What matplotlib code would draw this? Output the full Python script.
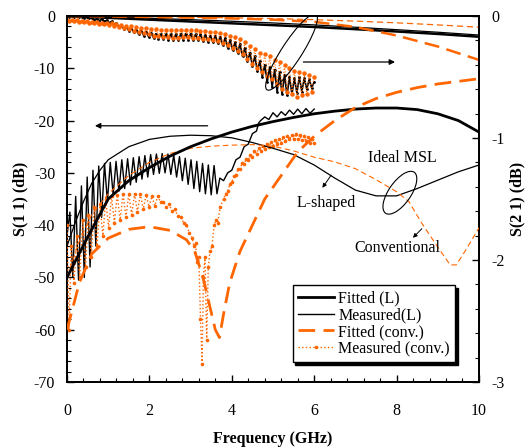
import numpy as np
import matplotlib
matplotlib.use('Agg')
import matplotlib.pyplot as plt
from matplotlib.patches import Ellipse
import matplotlib.transforms as mtransforms
from matplotlib.ticker import MultipleLocator

plt.rcParams['font.family'] = ['Liberation Serif', 'DejaVu Serif']
plt.rcParams['font.size'] = 11.5

ORANGE = '#FF6600'

# ---------------- S11 (left axis, dB) ----------------
fitL_s11_f = [0, 0.5, 1.0, 1.5, 2.0, 2.5, 3.0, 3.5, 4.0, 4.5, 5.0, 5.5, 6.0, 6.5, 7.0, 7.5, 8.0, 8.5, 9.0, 9.5, 10]
fitL_s11 = [-50, -42.3, -35, -31.5, -29, -26.8, -25, -23.5, -22.2, -21.1, -20.2, -19.4, -18.7, -18.2, -17.8, -17.6,
            -17.6, -17.9, -18.7, -20.0, -22.2]

fitC_s11_f = [0, 0.3, 0.6, 1.0, 1.5, 2.0, 2.5, 2.9, 3.1, 3.3, 3.45, 3.6, 3.7, 3.8, 3.95, 4.2, 4.5, 4.8, 5.2, 5.6,
              6.0, 6.5, 7.0, 7.5, 8.0, 8.5, 9.0, 9.5, 10]
fitC_s11 = [-60, -51, -45.5, -42.5, -40.8, -40.3, -41, -42.8, -45, -50, -55, -60, -61.5, -57, -51, -45, -40, -35,
            -30.5, -26, -23, -20, -17.5, -15.8, -14.6, -13.7, -13, -12.5, -12]

idL_s11_f = [0, 0.2, 0.4, 0.6, 0.8, 1.0, 1.5, 2.0, 2.5, 3.0, 3.5, 4.0, 4.5, 5.0, 5.5, 6.0, 6.5, 7.0, 7.5, 8.0,
             8.5, 9.0, 9.5, 10]
idL_s11 = [-44, -39.5, -35.5, -32, -29.5, -27.5, -25, -23.6, -23, -22.8, -22.9, -23.3, -24.2, -25.3, -26.5, -28.5,
           -31, -33.3, -34.4, -34.4, -33, -31.4, -29.8, -28.5]

idC_s11_f = [0, 0.3, 0.6, 1.0, 1.5, 2.0, 2.5, 3.0, 3.5, 4.0, 4.5, 5.0, 5.5, 6.0, 6.5, 7.0, 7.5, 8.0, 8.3, 8.6,
             9.0, 9.3, 9.45, 9.7, 10]
idC_s11 = [-50, -43, -38, -34, -30.5, -28, -26.3, -25.3, -24.9, -24.7, -24.6, -24.9, -25.8, -27, -27.9, -29.2,
           -31.3, -33.6, -35.5, -39.5, -44.2, -47.6, -47.6, -44.5, -40.5]

# measured L, S11 (oscillating part sampled every 0.07 GHz, then the rise)
measL_s11_f1 = np.round(np.arange(0, 3.72, 0.07), 2)
measL_s11_v1 = [-42, -37.5, -50, -34.5, -50.5, -32.5, -50, -30.8, -48, -29.5,
                -44, -28.7, -38.5, -28.2, -35.5, -28.0, -34.2, -27.8, -33.5, -27.5,
                -33.0, -27.3, -32.3, -27.1, -31.8, -26.9, -31.2, -26.7, -30.8, -26.5,
                -30.3, -26.4, -30.1, -26.3, -30.0, -26.4, -30.3, -26.6, -30.8, -26.9,
                -31.5, -27.2, -32.2, -27.5, -33.0, -27.8, -33.6, -28.2, -34.0, -28.5,
                -34.2, -28.6, -34.0, -31.0]
measL_s11_f2 = [3.8, 3.9, 4.0, 4.1, 4.2, 4.3, 4.4, 4.5, 4.6, 4.65, 4.7, 4.8, 4.9, 5.0, 5.1, 5.2, 5.3, 5.4, 5.5,
                5.6, 5.7, 5.8, 5.9, 6.0]
measL_s11_v2 = [-31.5, -30.0, -29.5, -27.5, -27.0, -25.0, -24.5, -22.5, -22.0, -20.5, -20.0, -19.3, -19.8, -18.5,
                -19.3, -18.3, -19.0, -18.0, -18.8, -17.8, -18.7, -17.7, -18.6, -17.8]

# measured conventional, S11
measC_s11_f = [0.0, 0.05, 0.1, 0.17, 0.24, 0.31, 0.38, 0.45, 0.52, 0.59, 0.66, 0.73, 0.8, 0.87, 0.94, 1.01, 1.08,
               1.15, 1.22, 1.29, 1.36, 1.43, 1.5, 1.57, 1.64, 1.71, 1.78, 1.85, 1.92, 1.99, 2.06, 2.13, 2.2, 2.27,
               2.34, 2.41, 2.48, 2.55, 2.62, 2.69, 2.76, 2.83, 2.9, 2.97, 3.04, 3.08, 3.12, 3.16, 3.2, 3.24, 3.28,
               3.31, 3.35, 3.39, 3.43, 3.47, 3.52, 3.57, 3.62, 3.66, 3.72,
               3.80, 3.85, 3.90, 3.95, 4.00, 4.05, 4.10, 4.15, 4.20, 4.25, 4.30, 4.35, 4.40, 4.45, 4.50, 4.55,
               4.60, 4.65, 4.70, 4.75, 4.80, 4.85, 4.90, 4.95, 5.00, 5.05, 5.10, 5.15, 5.20, 5.25, 5.30, 5.35,
               5.40, 5.45, 5.50, 5.55, 5.60, 5.65, 5.70, 5.75, 5.80, 5.85, 5.90, 5.95, 6.00]
measC_s11 = [-40, -60, -44, -51, -42, -50, -39, -48, -38, -46, -36.5, -44, -36, -42, -35, -40.5, -34.5,
             -39.5, -34.2, -39, -34, -38.5, -34, -38, -34, -37.5, -34, -37, -34.2, -36.5, -34.5, -36.3, -34.5, -35.5,
             -35.5, -36.5, -36, -37.3, -37, -38.3, -38.5, -39.5, -40, -41.5, -42.5, -44, -43.5, -47, -46, -58, -66.5,
             -50, -46, -62, -48, -45, -44, -40, -39, -39.5, -36.5,
             -35.0, -34.0, -33.5, -32.2, -31.8, -30.6, -30.4, -29.3, -29.2, -28.2, -28.3, -27.3, -27.6, -26.6,
             -27.0, -25.9, -26.3, -25.3, -25.9, -24.8, -25.4, -24.4, -25.1, -24.1, -24.8, -23.8, -24.5, -23.5,
             -24.2, -23.2, -23.9, -22.9, -23.6, -22.7, -23.5, -22.6, -23.6, -22.8, -23.8, -23.0, -24.0, -23.2,
             -24.2, -23.5, -24.3]

# ---------------- S21 (right axis, dB) ----------------
s21_f = [0, 1, 2, 3, 4, 5, 6, 7, 8, 9, 10]
fitL_s21 = [0, -0.015, -0.03, -0.045, -0.06, -0.075, -0.09, -0.108, -0.127, -0.147, -0.17]
idL_s21 = [0, -0.008, -0.018, -0.03, -0.043, -0.057, -0.073, -0.092, -0.112, -0.133, -0.156]
fitC_s21 = [0, -0.003, -0.008, -0.013, -0.02, -0.03, -0.048, -0.09, -0.16, -0.25, -0.36]
idC_s21 = [0, -0.003, -0.006, -0.01, -0.015, -0.021, -0.03, -0.042, -0.056, -0.073, -0.092]

meas_s21_f = np.round(np.arange(0, 6.001, 0.06), 2)
measL_s21 = [0.0, -0.005, 0.0, -0.008, -0.003, -0.010, -0.006, -0.014, -0.010, -0.018,
             -0.016, -0.030, -0.022, -0.038, -0.028, -0.045, -0.035, -0.055, -0.045, -0.068,
             -0.060, -0.090, -0.075, -0.105, -0.090, -0.120, -0.100, -0.135, -0.115, -0.150,
             -0.120, -0.160, -0.130, -0.170, -0.140, -0.180, -0.145, -0.185, -0.150, -0.190,
             -0.150, -0.195, -0.150, -0.200, -0.150, -0.200, -0.148, -0.195, -0.145, -0.195,
             -0.145, -0.195, -0.150, -0.200, -0.150, -0.205, -0.155, -0.210, -0.160, -0.215,
             -0.160, -0.225, -0.170, -0.240, -0.180, -0.260, -0.195, -0.280, -0.215, -0.300,
             -0.230, -0.330, -0.260, -0.370, -0.300, -0.410, -0.330, -0.450, -0.370, -0.500,
             -0.400, -0.540, -0.420, -0.580, -0.440, -0.620, -0.460, -0.640, -0.480, -0.650,
             -0.500, -0.640, -0.510, -0.630, -0.500, -0.620, -0.510, -0.600, -0.520, -0.590, -0.540]
measC_s21 = [-0.030, -0.040, -0.032, -0.045, -0.036, -0.048, -0.040, -0.052, -0.044, -0.056,
             -0.048, -0.060, -0.050, -0.064, -0.054, -0.068, -0.056, -0.072, -0.060, -0.078,
             -0.065, -0.088, -0.070, -0.098, -0.078, -0.110, -0.085, -0.120, -0.090, -0.130,
             -0.095, -0.140, -0.100, -0.150, -0.105, -0.160, -0.110, -0.165, -0.115, -0.170,
             -0.115, -0.175, -0.118, -0.180, -0.118, -0.180, -0.115, -0.175, -0.112, -0.175,
             -0.112, -0.178, -0.118, -0.182, -0.120, -0.188, -0.125, -0.192, -0.128, -0.198,
             -0.130, -0.205, -0.138, -0.220, -0.148, -0.240, -0.160, -0.262, -0.175, -0.285,
             -0.190, -0.310, -0.215, -0.350, -0.245, -0.390, -0.270, -0.430, -0.300, -0.460,
             -0.310, -0.490, -0.330, -0.520, -0.360, -0.560, -0.380, -0.600, -0.400, -0.620,
             -0.430, -0.640, -0.450, -0.660, -0.460, -0.650, -0.470, -0.640, -0.480, -0.620, -0.500]

legend_labels = ['Fitted (L)', 'Measured(L)', 'Fitted (conv.)', 'Measured (conv.)']

# ---------------- figure ----------------
fig = plt.figure(figsize=(5.26, 4.48), dpi=100)
ax = fig.add_axes([0.1274, 0.1473, 0.7832, 0.8170])
ax2 = ax.twinx()

DASH_LONG = (0, (6, 3))
DASH_THIN = (0, (5, 3))

# S11
l_measL, = ax.plot(np.concatenate([measL_s11_f1, measL_s11_f2]),
                   np.concatenate([measL_s11_v1, measL_s11_v2]), color='black', lw=1.0, zorder=3)
l_measC, = ax.plot(measC_s11_f, measC_s11, color=ORANGE, lw=1.0, ls=':', marker='o', ms=2.6,
                   markeredgewidth=0, zorder=3)
l_fitL, = ax.plot(fitL_s11_f, fitL_s11, color='black', lw=2.0, zorder=4)
l_fitC, = ax.plot(fitC_s11_f, fitC_s11, color=ORANGE, lw=2.0, ls=DASH_LONG, zorder=4)
ax.plot(idL_s11_f, idL_s11, color='black', lw=0.9, zorder=3)
ax.plot(idC_s11_f, idC_s11, color=ORANGE, lw=0.8, ls=DASH_THIN, zorder=3)

# S21
ax2.plot(meas_s21_f, measL_s21, color='black', lw=1.2, marker='o', ms=2.0, markeredgewidth=0, zorder=3)
ax2.plot(meas_s21_f, measC_s21, color=ORANGE, lw=0.8, ls=':', marker='o', ms=3.2, markeredgewidth=0, zorder=3)
ax2.plot(s21_f, fitL_s21, color='black', lw=1.8, zorder=4)
ax2.plot(s21_f, idL_s21, color='black', lw=0.9, zorder=4)
ax2.plot(s21_f, fitC_s21, color=ORANGE, lw=1.8, ls=DASH_LONG, zorder=4)
ax2.plot(s21_f, idC_s21, color=ORANGE, lw=0.9, ls=DASH_THIN, zorder=4)

# axes
ax.set_xlim(0, 10)
ax.set_ylim(-70, 0)
ax2.set_ylim(-3, 0)
ax.xaxis.set_major_locator(MultipleLocator(2))
ax.xaxis.set_minor_locator(MultipleLocator(0.4))
ax.yaxis.set_major_locator(MultipleLocator(10))
ax.yaxis.set_minor_locator(MultipleLocator(2))
ax2.yaxis.set_major_locator(MultipleLocator(1))
ax2.yaxis.set_minor_locator(MultipleLocator(0.2))
ax.set_xticks([0, 2, 4, 6, 8, 10])
ax.set_xticklabels(['0', '2', '4', '6', '8', '10'])
ax.set_yticks([0, -10, -20, -30, -40, -50, -60, -70])
ax.set_yticklabels(['0', '-10', '-20', '-30', '-40', '-50', '-60', '-70'])
ax2.set_yticks([0, -1, -2, -3])
ax2.set_yticklabels(['0', '-1', '-2', '-3'])

ax.tick_params(axis='x', which='both', direction='in', top=False, pad=15, labelsize=11.5)
ax.tick_params(axis='x', which='major', length=5, width=1)
ax.tick_params(axis='x', which='minor', length=3, width=0.8)
ax.tick_params(axis='y', which='both', direction='in', right=False, pad=8.5, labelsize=11.5)
ax.tick_params(axis='y', which='major', length=5, width=1)
ax.tick_params(axis='y', which='minor', length=3, width=0.8)
ax2.tick_params(axis='y', which='both', direction='in', pad=9, labelsize=11.5)
ax2.tick_params(axis='y', which='major', length=5, width=1)
ax2.tick_params(axis='y', which='minor', length=3, width=0.8)
for sp in ax.spines.values():
    sp.set_linewidth(1.3)
for sp in ax2.spines.values():
    sp.set_linewidth(1.3)

ax.set_xlabel('Frequency (GHz)', fontweight='bold', fontsize=11.5, labelpad=9)
ax.set_ylabel('S(1 1) (dB)', fontweight='bold', fontsize=11.5, labelpad=4)
ax2.set_ylabel('S(2 1) (dB)', fontweight='bold', fontsize=11.5, labelpad=3)

# annotations
def ellipse(x, y, w_in, h_in, angle):
    trans = fig.dpi_scale_trans + mtransforms.ScaledTranslation(x, y, ax.transData)
    e = Ellipse((0, 0), w_in, h_in, angle=angle, transform=trans, fill=False, lw=0.8,
                ec='black', zorder=6)
    ax.add_patch(e)

ellipse(5.45, -6.9, 0.9, 0.2, 57)
ellipse(8.08, -33.8, 0.5, 0.22, 55)

arrow_kw = dict(arrowstyle='-|>', color='black', lw=0.9, mutation_scale=8)
ax.annotate('', xy=(8.03, -8.8), xytext=(5.67, -8.8), arrowprops=arrow_kw, zorder=6)
ax.annotate('', xy=(0.61, -21.0), xytext=(3.48, -21.0), arrowprops=arrow_kw, zorder=6)
ax.annotate('', xy=(6.16, -33.3), xytext=(6.45, -30.0), arrowprops=dict(arrowstyle='-|>', color='black',
            lw=0.7, mutation_scale=6), zorder=6)
ax.annotate('', xy=(8.35, -42.8), xytext=(8.66, -40.3), arrowprops=dict(arrowstyle='-|>', color='black',
            lw=0.7, mutation_scale=6), zorder=6)
ax.text(8.15, -27.2, 'Ideal MSL', ha='center', va='center', fontsize=11.5, zorder=6)
ax.text(6.3, -35.8, 'L-shaped', ha='center', va='center', fontsize=11.5, zorder=6)
ax.text(8.03, -44.4, 'Conventional', ha='center', va='center', fontsize=11.5, zorder=6)

# legend
leg = ax.legend([l_fitL, l_measL, l_fitC, l_measC], legend_labels, loc='lower right',
                bbox_to_anchor=(0.942, 0.055), borderaxespad=0, fontsize=11.5, handlelength=2.3,
                handletextpad=0.25, labelspacing=0.05, borderpad=0.32, fancybox=False,
                edgecolor='black', framealpha=1, shadow={'color': 'black', 'alpha': 1})
leg.get_frame().set_linewidth(1.0)
leg.set_zorder(10)
ax.set_zorder(ax2.get_zorder() + 1)
ax.patch.set_visible(False)

fig.savefig('out.png', dpi=100)
